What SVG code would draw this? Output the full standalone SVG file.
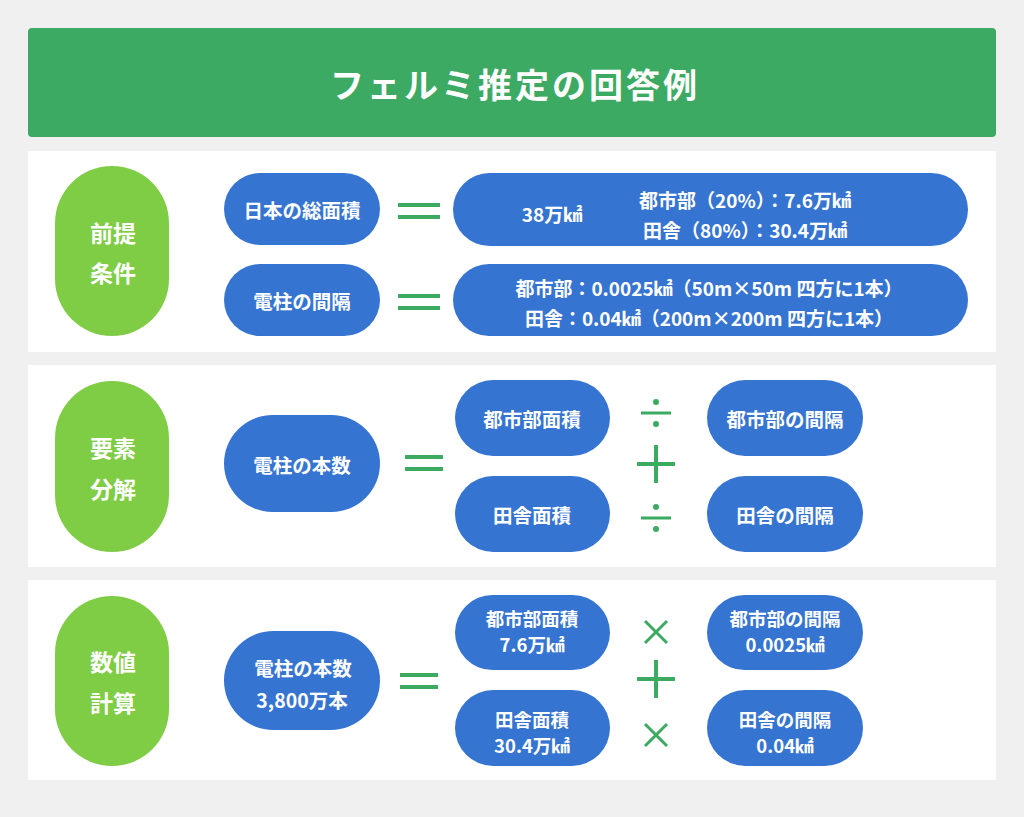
<svg xmlns="http://www.w3.org/2000/svg" width="1024" height="817" viewBox="0 0 1024 817">
<style>
text{font-family:"Noto Sans CJK JP","Noto Sans",sans-serif;font-weight:bold;fill:#fff;text-anchor:middle;dominant-baseline:central}
.t{font-size:19.5px}
.s{font-size:19px}
.u{font-size:18.5px}
.h{font-size:23px}
.g{fill:#7fcc45}
.b{fill:#3674d2}
.op{stroke:#3daa62;stroke-width:4;fill:none}
.dot{fill:#3daa62}
.panel{fill:#fff}
</style>
<rect width="1024" height="817" fill="#f0f0f0"/>
<g id="title">
<rect x="28" y="28" width="968" height="109" rx="4" fill="#3caa62"/>
<text x="515" y="83" style="font-size:34px;letter-spacing:3px">フェルミ推定の回答例</text>
</g>
<rect class="panel" x="28" y="151" width="968" height="201"/>
<rect class="panel" x="28" y="365" width="968" height="202"/>
<rect class="panel" x="28" y="580" width="968" height="200"/>

<g id="sec1">
<rect class="g" x="55" y="166" width="114" height="170" rx="57"/>
<text class="h" x="113" y="232">前提</text>
<text class="h" x="113" y="272">条件</text>
</g>
<g id="sec2">
<rect class="g" x="55" y="381" width="114" height="171" rx="57"/>
<text class="h" x="113" y="447">要素</text>
<text class="h" x="113" y="488">分解</text>
</g>
<g id="sec3">
<rect class="g" x="55" y="596" width="114" height="170" rx="57"/>
<text class="h" x="113" y="661">数値</text>
<text class="h" x="113" y="702">計算</text>
</g>

<g id="n-area">
<rect class="b" x="224" y="173" width="156" height="72" rx="36"/>
<text class="t" x="302" y="209">日本の総面積</text>
</g>
<g id="n-interval">
<rect class="b" x="224" y="264" width="156" height="72" rx="36"/>
<text class="t" x="302" y="300">電柱の間隔</text>
</g>
<g id="n-area-val">
<rect class="b" x="453" y="173" width="515" height="73" rx="36.5"/>
<text class="s" x="552" y="213">38万㎢</text>
<text class="s" x="745" y="199">都市部（20%）：7.6万㎢</text>
<text class="s" x="745" y="229">田舎（80%）：30.4万㎢</text>
</g>
<g id="n-interval-val">
<rect class="b" x="453" y="264" width="515" height="72" rx="36"/>
<text class="s" x="709" y="287">都市部：0.0025㎢（50m×50m 四方に1本）</text>
<text class="s" x="709" y="317">田舎：0.04㎢（200m×200m 四方に1本）</text>
</g>

<g id="n-count">
<rect class="b" x="224" y="415" width="156" height="97" rx="48.5"/>
<text class="t" x="302" y="464">電柱の本数</text>
</g>
<g id="n-urban-area">
<rect class="b" x="455" y="380" width="155" height="76" rx="38"/>
<text class="t" x="532" y="418">都市部面積</text>
</g>
<g id="n-rural-area">
<rect class="b" x="455" y="476" width="155" height="76" rx="38"/>
<text class="t" x="532" y="514">田舎面積</text>
</g>
<g id="n-urban-int">
<rect class="b" x="707" y="380" width="156" height="76" rx="38"/>
<text class="t" x="785" y="418">都市部の間隔</text>
</g>
<g id="n-rural-int">
<rect class="b" x="707" y="476" width="156" height="76" rx="38"/>
<text class="t" x="785" y="514">田舎の間隔</text>
</g>

<g id="n-count-val">
<rect class="b" x="224" y="631" width="156" height="99" rx="49.5"/>
<text class="t" x="303" y="667">電柱の本数</text>
<text class="t" x="302" y="699">3,800万本</text>
</g>
<g id="n-urban-area-val">
<rect class="b" x="455" y="595" width="155" height="75" rx="37.5"/>
<text class="u" x="532" y="618">都市部面積</text>
<text class="u" x="532" y="644">7.6万㎢</text>
</g>
<g id="n-rural-area-val">
<rect class="b" x="455" y="690" width="155" height="76" rx="38"/>
<text class="u" x="532" y="719">田舎面積</text>
<text class="u" x="532" y="745">30.4万㎢</text>
</g>
<g id="n-urban-int-val">
<rect class="b" x="707" y="595" width="156" height="75" rx="37.5"/>
<text class="u" x="785" y="618">都市部の間隔</text>
<text class="u" x="785" y="644">0.0025㎢</text>
</g>
<g id="n-rural-int-val">
<rect class="b" x="707" y="690" width="156" height="76" rx="38"/>
<text class="u" x="785" y="719">田舎の間隔</text>
<text class="u" x="785" y="745">0.04㎢</text>
</g>

<g id="connectors">
<path class="op" d="M398 205H440M398 217H440"/>
<path class="op" d="M398 296H440M398 308H440"/>
<path class="op" d="M405 457H443M405 469H443"/>
<path class="op" d="M400 675H438M400 687H438"/>
<path class="op" d="M641 413H671M641 518H671" style="stroke-width:3"/>
<circle class="dot" cx="656" cy="402" r="3"/>
<circle class="dot" cx="656" cy="424" r="3"/>
<circle class="dot" cx="656" cy="507" r="3"/>
<circle class="dot" cx="656" cy="529" r="3"/>
<path class="op" d="M637 464H675M656 445V483"/>
<path class="op" d="M637 679H675M656 660V698"/>
<path class="op" d="M645 621L667 643M667 621L645 643" style="stroke-width:3"/>
<path class="op" d="M645 724L667 746M667 724L645 746" style="stroke-width:3"/>
</g>
</svg>
